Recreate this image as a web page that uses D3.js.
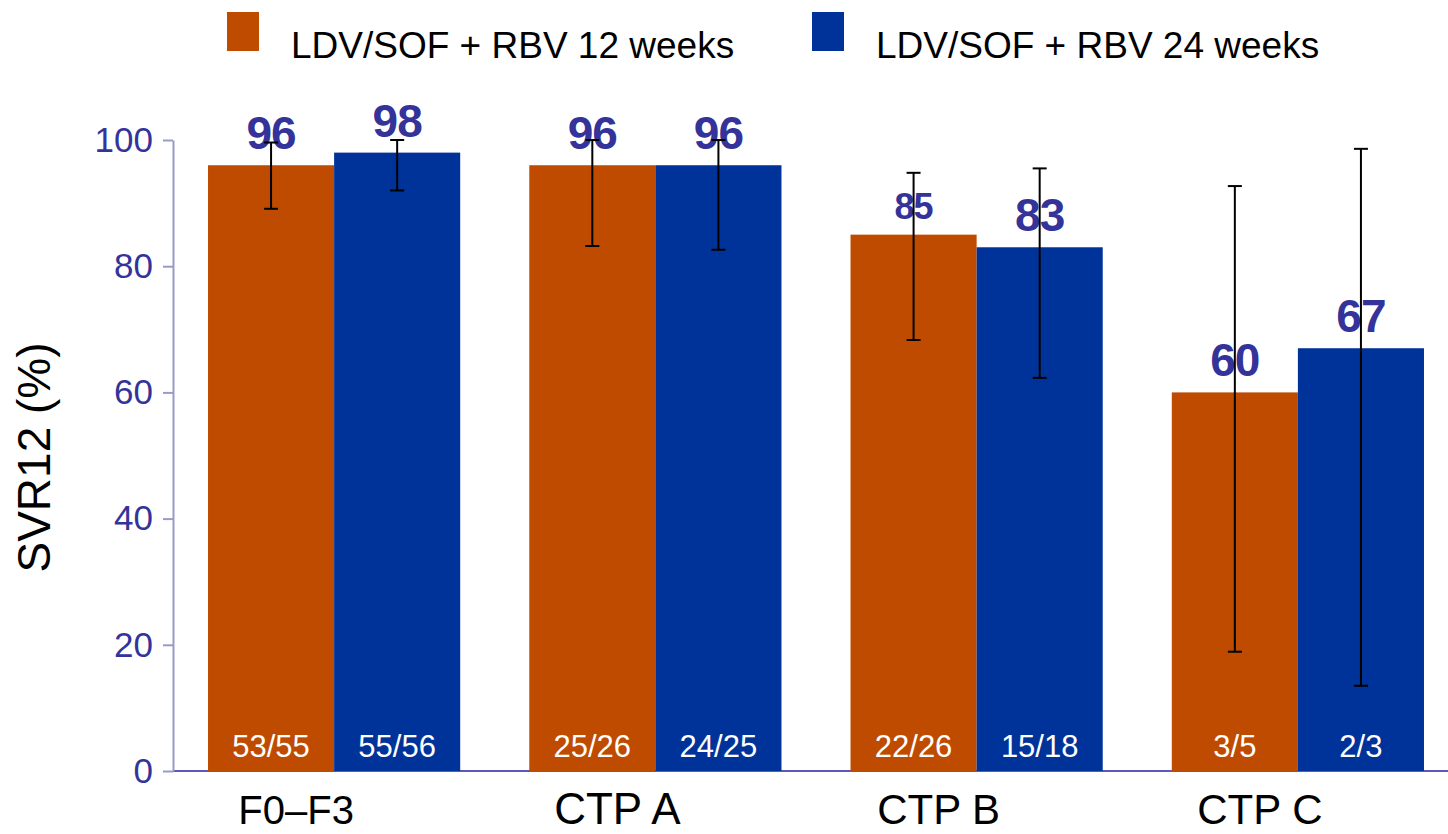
<!DOCTYPE html>
<html>
<head>
<meta charset="utf-8">
<script src="https://cdn.jsdelivr.net/npm/d3@7"></script>
<style>
  body { margin: 0; background: #fff; }
  text { font-family: "Liberation Sans", Arial, sans-serif; }
</style>
</head>
<body>
<div id="chart"></div>
<script>
// categories and series
var categories = ["F0\u2013F3", "CTP A", "CTP B", "CTP C"];
var seriesNames = ["LDV/SOF + RBV 12 weeks", "LDV/SOF + RBV 24 weeks"];
var seriesColors = ["#bf4b00", "#003399"];

var svr12wk = [96, 96, 85, 60];
var svr24wk = [98, 96, 83, 67];
var ciLow12 = [89.1, 83.2, 68.3, 18.9];
var ciHigh12 = [99.6, 100, 94.8, 92.7];
var ciLow24 = [92.0, 82.6, 62.3, 13.5];
var ciHigh24 = [100, 100, 95.5, 98.6];
var counts12 = ["53/55", "25/26", "22/26", "3/5"];
var counts24 = ["55/56", "24/25", "15/18", "2/3"];
var yTicks = [0, 20, 40, 60, 80, 100];

// label sizes (style only)
var valueSize12 = [46, 46, 36, 46];
var valueSize24 = [46, 46, 46, 46];
var catSize = [40, 44, 42, 42];

var width = 1448, height = 834;
var margin = {top: 140, left: 173, bottom: 63};

var svg = d3.select("#chart").append("svg")
  .attr("width", width)
  .attr("height", height);

var y = d3.scaleLinear()
  .domain([0, 100])
  .range([height - margin.bottom, margin.top]);

var x0 = d3.scaleBand()
  .domain(categories)
  .range([margin.left, 1459])
  .paddingInner(0.215)
  .paddingOuter(0.109);

var x1 = d3.scaleBand()
  .domain([0, 1])
  .range([0, x0.bandwidth()]);

var rows = categories.map(function(c, i) {
  return {
    cat: c,
    idx: i,
    bars: [
      {s: 0, v: svr12wk[i], lo: ciLow12[i], hi: ciHigh12[i], n: counts12[i], size: valueSize12[i]},
      {s: 1, v: svr24wk[i], lo: ciLow24[i], hi: ciHigh24[i], n: counts24[i], size: valueSize24[i]}
    ]
  };
});

// baseline
svg.append("line")
  .attr("x1", margin.left).attr("x2", width)
  .attr("y1", y(0)).attr("y2", y(0))
  .attr("stroke", "#5b5bb5")
  .attr("stroke-width", 2);

var groups = svg.selectAll(".grp")
  .data(rows)
  .enter().append("g")
  .attr("class", "grp")
  .attr("transform", function(d) { return "translate(" + x0(d.cat) + ",0)"; });

var bar = groups.selectAll(".bar")
  .data(function(d) { return d.bars; })
  .enter().append("g")
  .attr("class", "bar");

bar.append("rect")
  .attr("x", function(d) { return x1(d.s); })
  .attr("y", function(d) { return y(d.v); })
  .attr("width", x1.bandwidth())
  .attr("height", function(d) { return y(0) - y(d.v); })
  .attr("fill", function(d) { return seriesColors[d.s]; });

// n/N inside bars
bar.append("text")
  .attr("x", function(d) { return x1(d.s) + x1.bandwidth() / 2; })
  .attr("y", y(0) - 14)
  .attr("text-anchor", "middle")
  .attr("fill", "#fff")
  .style("font-size", "31px")
  .text(function(d) { return d.n; });

// value labels
bar.append("text")
  .attr("x", function(d) { return x1(d.s) + x1.bandwidth() / 2; })
  .attr("y", function(d) { return y(d.v) - 16; })
  .attr("text-anchor", "middle")
  .attr("fill", "#333399")
  .style("font-weight", "bold")
  .style("letter-spacing", "-1px")
  .style("font-size", function(d) { return d.size + "px"; })
  .text(function(d) { return d.v; });

// error bars
var err = bar.append("g")
  .attr("stroke", "#000")
  .attr("stroke-width", 2);

err.append("line")
  .attr("x1", function(d) { return x1(d.s) + x1.bandwidth() / 2; })
  .attr("x2", function(d) { return x1(d.s) + x1.bandwidth() / 2; })
  .attr("y1", function(d) { return y(d.lo); })
  .attr("y2", function(d) { return y(d.hi); });

["lo", "hi"].forEach(function(k) {
  err.append("line")
    .attr("x1", function(d) { return x1(d.s) + x1.bandwidth() / 2 - 7; })
    .attr("x2", function(d) { return x1(d.s) + x1.bandwidth() / 2 + 7; })
    .attr("y1", function(d) { return y(d[k]); })
    .attr("y2", function(d) { return y(d[k]); });
});

// y axis
var yAxis = svg.append("g")
  .attr("transform", "translate(" + margin.left + ",0)")
  .call(d3.axisLeft(y).tickValues(yTicks).tickSize(10).tickSizeOuter(0).tickPadding(10));

yAxis.select(".domain").attr("stroke", "#9a9ac8").attr("stroke-width", 2);
yAxis.selectAll(".tick line").attr("stroke", "#9a9ac8").attr("stroke-width", 2);
yAxis.selectAll(".tick text")
  .attr("fill", "#333399")
  .style("font-size", "35px")
  .style("font-family", "'Liberation Sans', Arial, sans-serif");

svg.append("text")
  .attr("transform", "translate(50," + (y(50) + 2) + ") rotate(-90)")
  .attr("text-anchor", "middle")
  .attr("fill", "#000")
  .style("font-size", "46px")
  .text("SVR12 (%)");

// category labels
svg.selectAll(".cat")
  .data(categories)
  .enter().append("text")
  .attr("class", "cat")
  .attr("x", function(d) { return x0(d) + x0.bandwidth() / 2 - 38; })
  .attr("y", 824)
  .attr("text-anchor", "middle")
  .attr("fill", "#000")
  .style("font-size", function(d, i) { return catSize[i] + "px"; })
  .text(function(d) { return d; });

// legend
var legendX = [227, 812];
var legend = svg.selectAll(".legend")
  .data(seriesNames)
  .enter().append("g")
  .attr("class", "legend")
  .attr("transform", function(d, i) { return "translate(" + legendX[i] + ",12)"; });

legend.append("rect")
  .attr("width", 32)
  .attr("height", 39)
  .attr("fill", function(d, i) { return seriesColors[i]; });

legend.append("text")
  .attr("x", 64)
  .attr("y", 46)
  .attr("fill", "#000")
  .style("font-size", "37px")
  .text(function(d) { return d; });
</script>
</body>
</html>
